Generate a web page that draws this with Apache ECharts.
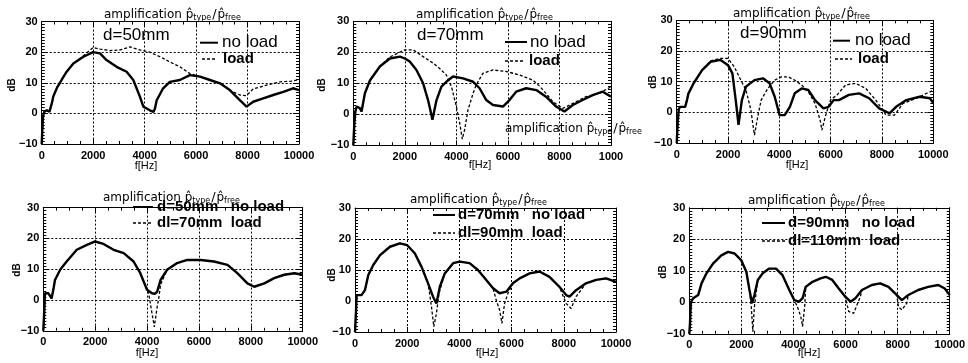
<!DOCTYPE html>
<html><head><meta charset="utf-8">
<script src="https://cdn.jsdelivr.net/npm/echarts@6/dist/echarts.min.js"></script>
<style>html,body{margin:0;padding:0;background:#fff}#c{width:968px;height:363px}</style>
</head><body><div id="c"></div><script>
// ---- data (frequency in Hz, amplification in dB) ----
const xTickLabels   = ['0','2000','4000','6000','8000','10000'];
const xTickLabelsP2 = ['0','2000','4000','6000','8000','1000'];
const yTickLabels   = ['\u221210','0','10','20','30'];

const p1NoLoad = [[0,-10],[50,-1],[100,0.5],[200,1],[300,0.5],[350,0],[400,3.5],[450,5.5],[600,8.5],[710,10],[850,12],[970,13.6],[1230,16.3],[1620,18.5],[2000,20],[2265,19.6],[2520,17.4],[2910,15.2],[3300,13.6],[3560,10.9],[3820,5.4],[3950,2.2],[4080,1.6],[4200,1],[4340,0.5],[4400,1.5],[4470,4.3],[4720,8.2],[4980,10.3],[5370,10.9],[5760,12.5],[6150,12],[6540,10.9],[6930,9.8],[7310,7.6],[7700,4.3],[7960,2.2],[8220,3.8],[8610,4.9],[9000,6],[9390,7],[9770,8.2],[10000,7.6]];
const p1Load   = [[0,-10],[50,-1],[100,0.5],[200,1],[300,0.5],[350,0],[400,3.5],[450,5.5],[600,8.5],[710,10],[850,12],[970,13.6],[1230,16.3],[1620,18.8],[2000,21.5],[2265,21],[2650,20.5],[3040,20.7],[3430,21.7],[3820,20.7],[4200,20],[4600,18.5],[4980,16.8],[5370,15.2],[5760,13],[6150,12],[6540,10.9],[6930,9.8],[7310,7.5],[7700,6],[7960,5.8],[8220,8],[8740,9.2],[9260,10.3],[9700,10.5],[10000,11]];

const p2NoLoad = [[0,-10],[40,-3],[80,1],[130,2.5],[250,2],[320,0.9],[400,4.5],[450,6.8],[650,11],[1030,15.4],[1420,18],[1810,18.6],[2000,18],[2190,17],[2450,14.3],[2710,10],[2900,4.6],[3000,1],[3070,-1.8],[3150,1.5],[3230,4.6],[3420,8.9],[3680,11],[3870,12.2],[4260,11.6],[4650,10.5],[4900,8.4],[5160,4.6],[5420,3],[5810,2.5],[6060,4.6],[6320,7.3],[6710,8.4],[7100,7.8],[7480,5.7],[7870,2.5],[8190,0.9],[8520,3],[8900,4.6],[9290,6.2],[9680,7.3],[10000,5.7]];
const p2Load   = [[0,-10],[40,-3],[80,1],[130,2.5],[250,2],[320,0.9],[400,4.5],[450,6.8],[650,11],[1030,15.4],[1420,18.5],[1550,19],[2000,20.8],[2320,20.8],[2710,18.6],[3100,16.5],[3350,14.8],[3610,12.7],[3810,8.9],[4000,2.5],[4130,-2.9],[4230,-8],[4320,-5],[4450,1.4],[4650,6.8],[4770,9.5],[5030,13.2],[5420,14.3],[5940,13.8],[6450,12.7],[6970,11],[7240,9],[7500,6.5],[7740,4.1],[8130,1.9],[8520,3.5],[9030,5.7],[9550,6.8],[10000,8.9]];

const p3NoLoad = [[0,-10],[40,-3],[80,1],[130,1.8],[330,1.8],[400,4],[460,6.2],[660,9.5],[990,13.8],[1320,16.5],[1710,17.1],[2000,15.4],[2170,12.7],[2300,4],[2410,-4.1],[2540,4],[2700,8.4],[3030,10.5],[3360,11.1],[3620,9.5],[3820,5.1],[4010,-0.9],[4210,-0.9],[4410,1.8],[4600,6.2],[4870,7.8],[5130,7.3],[5390,4],[5720,1.3],[5920,1.8],[6120,4],[6320,4],[6710,5.7],[7110,6.2],[7500,4.6],[7890,1.3],[8290,-0.3],[8550,1.8],[8950,4],[9470,5.1],[9870,4.6],[10000,3]];
const p3Load   = [[0,-10],[40,-3],[80,1],[130,1.8],[330,1.8],[400,4],[460,6.2],[660,9.5],[990,13.8],[1320,16.8],[1710,17.6],[2000,17.6],[2240,14.9],[2500,10.5],[2700,7.3],[2890,0.8],[2970,-4],[3030,-7.4],[3160,-1.4],[3290,4],[3550,7.8],[3820,10.5],[4080,11.6],[4340,11.6],[4600,10.5],[4870,8.9],[5130,6.7],[5390,2.9],[5590,-2.5],[5660,-5.8],[5790,-1.4],[5990,4],[6250,5.7],[6580,8.9],[6970,9.5],[7370,7.8],[7760,4],[8160,-0.9],[8490,-0.9],[8820,2.9],[9340,4.6],[9870,6.7],[10000,7.3]];

const p4NoLoad = [[0,-10],[40,-3],[65,2.2],[190,2.2],[320,0.5],[400,4],[450,6.5],[650,9.8],[900,12.5],[1290,16.3],[1680,17.9],[2000,19],[2320,18.2],[2710,16.3],[3100,15.2],[3480,12.5],[3740,8.7],[4000,3.3],[4190,2.2],[4300,2],[4390,2.7],[4520,6.5],[4770,9.8],[5160,12],[5550,13],[6060,13],[6580,12.5],[7100,11.4],[7480,8.7],[7870,5.4],[8130,4.3],[8520,5.4],[8900,7.1],[9290,8.2],[9680,8.7],[10000,8.2]];
const p4Load   = [[0,-10],[40,-3],[65,2.2],[190,2.2],[320,0.5],[400,4],[450,6.5],[650,9.8],[900,12.5],[1290,16.3],[1680,17.9],[2000,19],[2320,18.2],[2710,16.3],[3100,15.2],[3480,12.5],[3740,8.7],[4000,3.3],[4060,2.2],[4190,-4.3],[4280,-8.7],[4390,-2.2],[4450,0.5],[4520,5],[4770,9.8],[5160,12],[5550,13],[6060,13],[6580,12.5],[7100,11.4],[7480,8.7],[7870,5.4],[8130,4.3],[8520,5.4],[8900,7.1],[9290,8.2],[9680,8.7],[10000,8.2]];

const p5NoLoad = [[0,-10],[40,-3],[60,1.9],[250,1.9],[380,3.5],[510,8.4],[700,11.6],[960,14.8],[1340,17.5],[1720,18.6],[2000,18],[2290,15.4],[2550,11],[2800,5.7],[2990,1.4],[3120,-0.8],[3250,4.6],[3440,8.9],[3760,12.2],[4010,12.7],[4390,12.2],[4710,10],[5030,6.8],[5290,4.1],[5540,2.5],[5800,3],[6050,5.7],[6310,7.3],[6690,8.9],[7070,9.5],[7450,7.8],[7830,4.6],[8090,1.9],[8220,1.4],[8470,3.5],[8850,5.7],[9240,6.8],[9620,7.3],[10000,6.2]];
const p5Load   = [[0,-10],[40,-3],[60,1.9],[250,1.9],[380,3.5],[510,8.4],[700,11.6],[960,14.8],[1340,17.5],[1720,18.6],[2000,18],[2290,15.4],[2550,11],[2800,5.7],[2930,-1.8],[3020,-8.3],[3120,-4],[3220,2.5],[3440,8.9],[3760,12.2],[4010,12.7],[4390,12.2],[4710,10],[5030,6.8],[5290,4.1],[5410,0.3],[5540,-2.9],[5630,-7.2],[5730,-0.8],[5860,2.5],[6050,5.7],[6310,7.3],[6690,8.9],[7070,9.5],[7450,7.8],[7830,4.6],[8090,-0.8],[8280,-2.4],[8470,1.4],[8850,5.7],[9240,6.8],[9620,7.3],[10000,6.2]];

const p6NoLoad = [[0,-10],[25,-7],[60,0],[150,1.3],[340,2.3],[470,6],[660,9.2],[910,12.3],[1230,14.9],[1490,16],[1740,15.5],[1990,13.4],[2190,9.7],[2310,3.9],[2410,-0.3],[2500,2.3],[2630,7.1],[2820,9.2],[3070,10.7],[3330,10.7],[3580,8.6],[3840,3.9],[4030,0.7],[4220,0.2],[4350,1.3],[4470,4.9],[4730,6.5],[5040,7.6],[5240,8.1],[5490,7.1],[5740,4.4],[5990,1.8],[6190,0.2],[6380,1.3],[6630,3.9],[7010,5.5],[7330,6],[7650,4.9],[7970,2.3],[8160,0.7],[8410,2.3],[8790,3.9],[9170,4.9],[9560,5.5],[9810,4.4],[10000,2.3]];
const p6Load   = [[0,-10],[25,-7],[60,0],[150,1.3],[340,2.3],[470,6],[660,9.2],[910,12.3],[1230,14.9],[1490,16],[1740,15.5],[1990,13.4],[2190,9.7],[2310,3.9],[2380,-1.4],[2440,-9.3],[2500,-1.4],[2630,7.1],[2820,9.2],[3070,10.7],[3330,10.7],[3580,8.6],[3840,3.9],[4030,0.7],[4150,-1.4],[4280,-4.5],[4350,-7.7],[4430,-1.4],[4470,4.9],[4730,6.5],[5040,7.6],[5240,8.1],[5490,7.1],[5740,4.4],[5990,1.8],[6120,-2.9],[6310,-3.5],[6440,-0.8],[6570,1.8],[6630,3.9],[7010,5.5],[7330,6],[7650,4.9],[7970,2.3],[8030,-1.4],[8160,-2.4],[8350,-0.3],[8410,2.3],[8790,3.9],[9170,4.9],[9560,5.5],[9810,4.4],[10000,2.3]];

const noLoadSeries = [p1NoLoad,p2NoLoad,p3NoLoad,p4NoLoad,p5NoLoad,p6NoLoad];
const loadSeries   = [p1Load,p2Load,p3Load,p4Load,p5Load,p6Load];
const panelXLabels = [xTickLabels,xTickLabelsP2,xTickLabels,xTickLabels,xTickLabels,xTickLabels];

// ---- layout ----
const boxes = [
  {l:41.7, r:299,   t:21.5, b:144},
  {l:353.3,r:611,   t:21.3, b:145.3},
  {l:676.7,r:933.3, t:20.4, b:143},
  {l:43.3, r:302.7, t:207.6,b:330.8},
  {l:355,  r:616,   t:208,  b:332},
  {l:689.3,r:951.7, t:207.8,b:333.8}
];
const FONT = 'Liberation Sans';
const TFONT = 'DejaVu Sans';
const black = '#000';
const gridLine = {show:true,lineStyle:{color:'#000',type:[2,2],dashOffset:0,width:1,opacity:1}};

const grid=[], xAxis=[], yAxis=[], series=[];
boxes.forEach((b,i)=>{
  grid.push({left:b.l, top:b.t, width:b.r-b.l, height:b.b-b.t, show:false, containLabel:false});
  const labels = panelXLabels[i];
  const common = {gridIndex:i, type:'value', axisLine:{show:true,onZero:false,lineStyle:{color:black,width:1}}};
  xAxis.push(Object.assign({}, common, {position:'bottom', min:0, max:10000, interval:2000,
    axisTick:{show:true,inside:true,length:5,lineStyle:{color:black}},
    minorTick:{show:true,splitNumber:4,length:3,lineStyle:{color:black}},
    splitLine:gridLine,
    axisLabel:{show:true,margin:6,color:black,fontSize:11,fontWeight:'bold',fontFamily:FONT,
      formatter:v=>labels[Math.round(v/2000)]}}));
  xAxis.push(Object.assign({}, common, {position:'top', min:0, max:10000, interval:2000,
    axisTick:{show:true,inside:true,length:5,lineStyle:{color:black}},
    minorTick:{show:true,splitNumber:4,length:3,lineStyle:{color:black}},
    splitLine:{show:false}, axisLabel:{show:false}}));
  yAxis.push(Object.assign({}, common, {position:'left', min:-10, max:30, interval:10,
    axisTick:{show:true,inside:true,length:6,lineStyle:{color:black}},
    minorTick:{show:true,splitNumber:10,length:3,lineStyle:{color:black}},
    splitLine:gridLine,
    axisLabel:{show:true,margin:4,color:black,fontSize:11,fontWeight:'bold',fontFamily:FONT,
      formatter:v=>yTickLabels[Math.round((v+10)/10)]}}));
  yAxis.push(Object.assign({}, common, {position:'right', min:-10, max:30, interval:10,
    axisTick:{show:true,inside:true,length:6,lineStyle:{color:black}},
    minorTick:{show:true,splitNumber:10,length:3,lineStyle:{color:black}},
    splitLine:{show:false}, axisLabel:{show:false}}));
  series.push({type:'line', name:'no load '+(i+1), xAxisIndex:2*i, yAxisIndex:2*i, data:noLoadSeries[i],
    showSymbol:false, symbol:'none', lineStyle:{color:black,width:2.4}, z:3});
  series.push({type:'line', name:'load '+(i+1), xAxisIndex:2*i, yAxisIndex:2*i, data:loadSeries[i],
    showSymbol:false, symbol:'none', lineStyle:{color:black,width:1.3,type:[3,2]}, z:4});
});

// titles
const titleText = '{a|amplification }{a|p\u0302}{s|type}{b|/}{a|p\u0302}{s|free}';
const titleRich = {
  a:{fontSize:12,fontFamily:TFONT,fontWeight:'normal',color:black,lineHeight:15,verticalAlign:'middle'},
  b:{fontSize:13,fontFamily:TFONT,fontWeight:'normal',color:black,lineHeight:15,verticalAlign:'middle',padding:[0,1,0,1]},
  s:{fontSize:8,fontFamily:TFONT,fontWeight:'normal',color:black,lineHeight:9,verticalAlign:'bottom'}
};
const titlePos = [[104,7],[416,7],[733,6],[103,190],[410,192],[748,193],[505,121]];
const title = titlePos.map(p=>({text:titleText,left:p[0],top:p[1],padding:0,
  textStyle:{rich:titleRich,fontSize:12,fontWeight:'normal',fontFamily:TFONT,color:black}}));

// graphic annotations
const graphic = [];
function txt(x,y,s,size,weight,rot){
  graphic.push({type:'text',x:x,y:y,rotation:rot||0,z:10,style:{text:s,fontSize:size,fontFamily:FONT,fontWeight:weight||'normal',
    fill:black,align:rot?'center':'left',verticalAlign:'middle'}});
}
function ln(x1,x2,y,dashed){
  graphic.push({type:'line',z:10,shape:{x1:x1,y1:y,x2:x2,y2:y},style:{stroke:black,lineWidth:dashed?1.5:2,lineDash:dashed?[3,2]:null}});
}
// row 1
txt(103,35,'d=50mm',17); ln(200,218,42.7,false); txt(222,42.5,'no load',17); ln(202,217,59,true); txt(223,59,'load',15,'bold');
txt(417,35,'d=70mm',17); ln(505,527,42,false); txt(530,42,'no load',17); ln(505,525,61,true); txt(529,61,'load',15,'bold');
txt(740,33,'d=90mm',17); ln(833,850,40.7,false); txt(855,40.5,'no load',17); ln(835,852,59,true); txt(858,59,'load',15,'bold');
// row 2
ln(133,153,207,false); txt(157,207,'d=50mm   no load',15,'bold'); ln(133,153,223,true); txt(157,223,'dl=70mm  load',15,'bold');
ln(433,455,215,false); txt(458,215,'d=70mm   no load',15,'bold'); ln(433,455,233,true); txt(458,233,'dl=90mm  load',15,'bold');
ln(762,785,223,false); txt(788,223,'d=90mm   no load',15,'bold'); ln(762,785,241,true); txt(788,241,'dl=110mm  load',15,'bold');
// axis names
const dbPos = [[12,85],[322,85],[653,82],[17,270],[332,275],[663,272]];
dbPos.forEach(p=>txt(p[0],p[1],'dB',10,'bold',Math.PI/2));
const fPos = [[146,166],[480,165],[797,165],[147,353],[487,353],[809,353]];
fPos.forEach(p=>graphic.push({type:'text',x:p[0],y:p[1],z:10,style:{text:'f[Hz]',fontSize:11,fontFamily:FONT,fill:black,align:'center',verticalAlign:'middle'}}));

const chart = echarts.init(document.getElementById('c'),null,{renderer:'canvas'});
chart.setOption({animation:false, backgroundColor:'#fff', title, grid, xAxis, yAxis, series, graphic});
</script></body></html>
